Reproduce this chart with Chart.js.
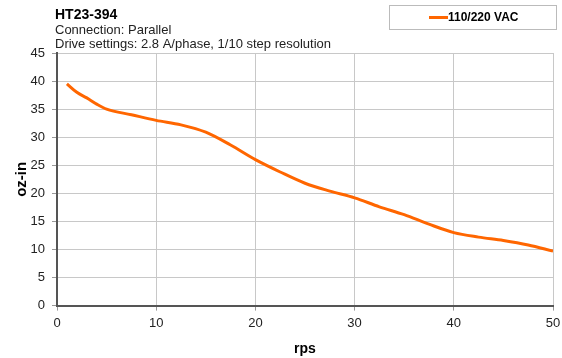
<!DOCTYPE html>
<html>
<head>
<meta charset="utf-8">
<script src="https://cdn.jsdelivr.net/npm/chart.js@4"></script>
<style>
html,body{margin:0;padding:0;background:#fff;}
#wrap{width:562px;height:358px;position:relative;}
</style>
</head>
<body>
<div id="wrap"><canvas id="c" width="562" height="358"></canvas></div>
<script>
const titleText = "HT23-394";
const subtitleLines = ["Connection: Parallel", "Drive settings: 2.8 A/phase, 1/10 step resolution"];
const seriesName = "110/220 VAC";
const speedRps = [1, 2, 3, 4, 5, 7.5, 10, 12.5, 15, 17.5, 20, 22.5, 25, 27.5, 30, 32.5, 35, 37.5, 40, 42.5, 45, 47.5, 50];
const torqueOzIn = [39.5, 38.0, 37.0, 35.9, 35.0, 34.0, 33.0, 32.2, 30.9, 28.6, 26.0, 23.8, 21.8, 20.4, 19.2, 17.6, 16.2, 14.5, 13.0, 12.2, 11.6, 10.8, 9.7];
const xTicks = [0, 10, 20, 30, 40, 50];
const yTicks = [0, 5, 10, 15, 20, 25, 30, 35, 40, 45];

const FONT = "'Liberation Sans', Arial, sans-serif";
const ORANGE = "#ff6600";

const headerPlugin = {
  id: 'header',
  afterDraw(chart) {
    const ctx = chart.ctx;
    const left = chart.chartArea.left - 2;
    ctx.save();
    ctx.fillStyle = '#000';
    ctx.textBaseline = 'alphabetic';
    ctx.textAlign = 'left';
    ctx.font = "bold 14px " + FONT;
    ctx.fillText(titleText, left, 19);
    ctx.font = "13px " + FONT;
    ctx.fillStyle = '#222';
    ctx.fillText(subtitleLines[0], left, 34);
    ctx.fillText(subtitleLines[1], left, 48);
    // legend box
    ctx.strokeStyle = '#bbb';
    ctx.lineWidth = 1;
    ctx.strokeRect(389.5, 5.5, 167, 24);
    ctx.strokeStyle = ORANGE;
    ctx.lineWidth = 3;
    ctx.beginPath();
    ctx.moveTo(429, 17.5);
    ctx.lineTo(448, 17.5);
    ctx.stroke();
    ctx.fillStyle = '#000';
    ctx.font = "bold 12px " + FONT;
    ctx.textBaseline = 'middle';
    ctx.fillText(seriesName, 448, 18);
    ctx.restore();
  }
};

new Chart(document.getElementById('c'), {
  type: 'line',
  data: {
    datasets: [{
      label: seriesName,
      data: speedRps.map((x, i) => ({x: x, y: torqueOzIn[i]})),
      borderColor: ORANGE,
      borderWidth: 3,
      pointRadius: 0,
      tension: 0.4,
      cubicInterpolationMode: 'monotone',
      fill: false
    }]
  },
  options: {
    responsive: false,
    animation: false,
    devicePixelRatio: 1,
    layout: { padding: { top: 53, right: 1, left: 10, bottom: 0 } },
    plugins: { legend: { display: false }, tooltip: { enabled: false }, title: { display: false } },
    scales: {
      x: {
        type: 'linear',
        min: 0, max: 50,
        afterBuildTicks(axis) { axis.ticks = xTicks.map(v => ({value: v})); },
        afterFit(scale) { scale.paddingRight = 9; },
        grid: { color: '#c8c8c8', lineWidth: 1, tickColor: '#999', tickLength: 5 },
        border: { color: '#555', width: 2 },
        ticks: { color: '#222', font: { family: FONT, size: 13 }, padding: 5, maxRotation: 0 },
        title: { display: true, text: 'rps', color: '#000', font: { family: FONT, size: 14, weight: 'bold' }, padding: { top: 5, bottom: 0 } }
      },
      y: {
        type: 'linear',
        min: 0, max: 45,
        afterBuildTicks(axis) { axis.ticks = yTicks.map(v => ({value: v})); },
        afterFit(scale) { scale.width = 47; },
        grid: { color: '#c8c8c8', lineWidth: 1, tickColor: '#999', tickLength: 5 },
        border: { color: '#555', width: 2 },
        ticks: { color: '#222', font: { family: FONT, size: 13 }, padding: 7 },
        title: { display: true, text: 'oz-in', color: '#000', font: { family: FONT, size: 15, weight: 'bold' }, padding: { top: 3, bottom: 0 } }
      }
    }
  },
  plugins: [headerPlugin]
});
</script>
</body>
</html>
